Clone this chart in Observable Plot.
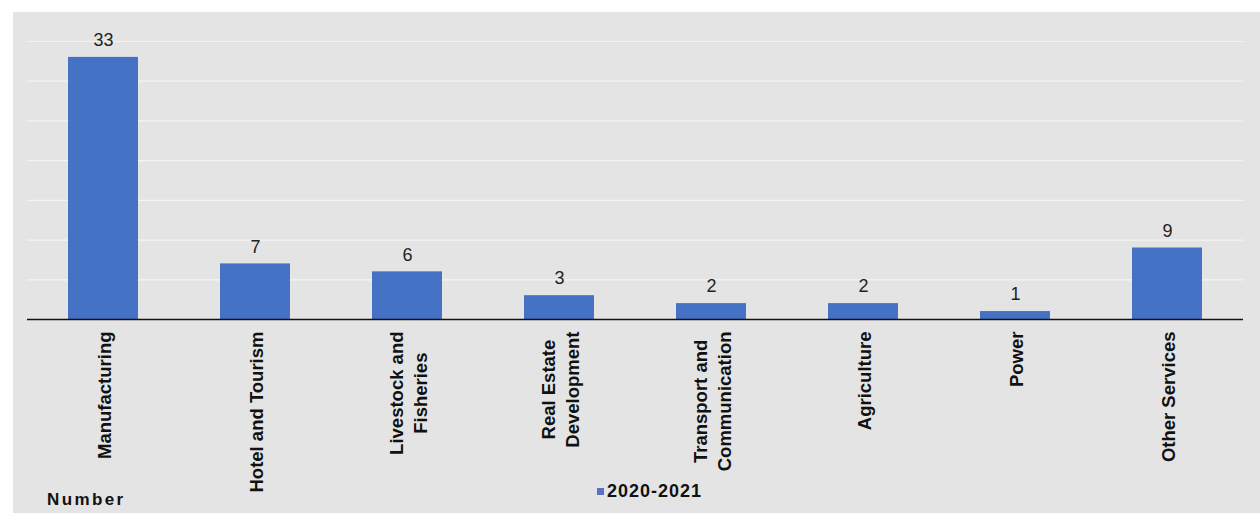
<!DOCTYPE html>
<html>
<head>
<meta charset="utf-8">
<script src="https://cdn.jsdelivr.net/npm/d3@7"></script>
<script src="https://cdn.jsdelivr.net/npm/@observablehq/plot@0.6"></script>
<style>
  html, body { margin: 0; padding: 0; background: #ffffff; }
  #wrap { position: absolute; left: 13px; top: 12px; width: 1247px; height: 501px; background: #e4e4e4; overflow: hidden; font-family: "Liberation Sans", Arial, sans-serif; }
  #chart svg { display: block; }
  #legend { position: absolute; left: 584px; top: 469px; font-size: 18px; letter-spacing: 1px; font-weight: bold; color: #111; display: flex; align-items: center; gap: 3px; }
  #legend .sw { width: 7px; height: 7px; background: #5b70c2; display: inline-block; }
  #ylabel { position: absolute; left: 34px; top: 478px; font-size: 17px; letter-spacing: 2.4px; font-weight: bold; color: #111; }
</style>
</head>
<body>
<div id="wrap">
  <div id="chart"></div>
  <div id="legend"><span class="sw"></span><span>2020-2021</span></div>
  <div id="ylabel">Number</div>
</div>
<script>
const categories = ["Manufacturing", "Hotel and Tourism", "Livestock and\nFisheries", "Real Estate\nDevelopment", "Transport and\nCommunication", "Agriculture", "Power", "Other Services"];
const values = [33, 7, 6, 3, 2, 2, 1, 9];
const gridTicks = [5, 10, 15, 20, 25, 30, 35];
const series = "2020-2021";

const data = categories.map((c, i) => ({category: c, value: values[i], series}));

const chart = Plot.plot({
  width: 1247,
  height: 501,
  marginTop: 29,
  marginBottom: 194,
  marginLeft: 14,
  marginRight: 17,
  style: {background: "transparent", fontFamily: "'Liberation Sans', Arial, sans-serif"},
  x: {domain: categories, paddingInner: 0.54, paddingOuter: 0.27, label: null},
  y: {domain: [0, 35], axis: null},
  marks: [
    Plot.gridY(gridTicks, {stroke: "#f4f4f4", strokeOpacity: 1, strokeWidth: 1.2}),
    Plot.barY(data, {x: "category", y: "value", fill: "#4472c4"}),
    Plot.ruleY([0], {stroke: "#111", strokeWidth: 1.5}),
    Plot.text(data, {x: "category", y: "value", text: d => String(d.value), dy: -17, fontSize: 18, fill: "#222"}),
    Plot.axisX({tickSize: 0, tickPadding: 12, tickRotate: -90, fontSize: 18.5, fontWeight: "bold", fill: "#111", label: null, lineHeight: 1.3})
  ]
});
document.getElementById("chart").appendChild(chart);

// Center the lines of multi-line tick labels within their block (block stays top-aligned).
chart.querySelectorAll('g[aria-label="x-axis tick label"] text').forEach(t => {
  const spans = t.querySelectorAll("tspan");
  if (spans.length < 2) return;
  let w = 0;
  spans.forEach(s => { w = Math.max(w, s.getComputedTextLength()); });
  t.setAttribute("text-anchor", "middle");
  spans.forEach(s => s.setAttribute("x", String(-w / 2)));
});
</script>
</body>
</html>
